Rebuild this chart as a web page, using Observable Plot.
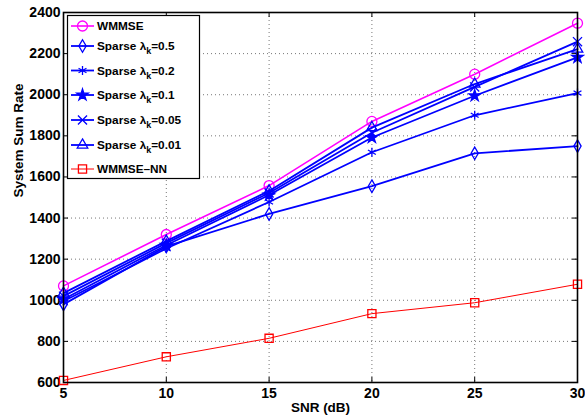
<!DOCTYPE html>
<html><head><meta charset="utf-8">
<script src="https://cdn.jsdelivr.net/npm/d3@7"></script>
<script src="https://cdn.jsdelivr.net/npm/@observablehq/plot@0.6"></script>
<style>body{margin:0;background:#fff} svg{display:block}</style>
</head><body><div id="chart"></div>
<script>
const snr = [5, 10, 15, 20, 25, 30];
const wmmse   = [1070, 1320, 1558, 1870, 2100, 2348];
const sp05    = [980, 1262, 1420, 1555, 1715, 1750];
const sp02    = [995, 1252, 1478, 1720, 1900, 2008];
const sp01    = [1005, 1268, 1512, 1792, 1995, 2182];
const sp005   = [1020, 1278, 1522, 1815, 2038, 2258];
const sp001   = [1035, 1288, 1532, 1840, 2052, 2222];
const wmmseNN = [610, 725, 815, 935, 988, 1078];
const xTicks = [5, 10, 15, 20, 25, 30];
const yTicks = [600, 800, 1000, 1200, 1400, 1600, 1800, 2000, 2200, 2400];
const lambdas = ["0.5", "0.2", "0.1", "0.05", "0.01"];

const BLUE = "#0000ff", MAG = "#ff00ff", RED = "#ff0000";
const series = [
  {name: "WMMSE", values: wmmse, color: MAG, symbol: "circle", d3sym: d3.symbolCircle, fill: "none", r: 5, sw: 1.6},
  {name: "Sparse 0.5", lam: lambdas[0], values: sp05, color: BLUE, symbol: "diamond", d3sym: d3.symbolDiamond, fill: "none", r: 3.8, sw: 1.8},
  {name: "Sparse 0.2", lam: lambdas[1], values: sp02, color: BLUE, symbol: "asterisk", d3sym: d3.symbolAsterisk, fill: "none", r: 4.3, sw: 1.8},
  {name: "Sparse 0.1", lam: lambdas[2], values: sp01, color: BLUE, symbol: "star", d3sym: d3.symbolStar, fill: BLUE, r: 3.6, sw: 1.8},
  {name: "Sparse 0.05", lam: lambdas[3], values: sp005, color: BLUE, symbol: "times", d3sym: d3.symbolTimes, fill: "none", r: 4.2, sw: 1.8},
  {name: "Sparse 0.01", lam: lambdas[4], values: sp001, color: BLUE, symbol: "triangle", d3sym: d3.symbolTriangle, fill: "none", r: 3.9, sw: 1.8},
  {name: "WMMSE-NN", values: wmmseNN, color: RED, symbol: "square", d3sym: d3.symbolSquare, fill: "none", r: 4.6, sw: 1}
];

const W = 585, H = 420;
const mL = 63, mR = 8, mT = 12, mB = 38;
const pw = W - mL - mR, ph = H - mT - mB;
const FONT = "'Liberation Sans', Arial, Helvetica, sans-serif";

const marks = [
  Plot.gridX(xTicks, {stroke: "#777", strokeOpacity: 1, strokeDasharray: "1,3"}),
  Plot.gridY(yTicks, {stroke: "#777", strokeOpacity: 1, strokeDasharray: "1,3"}),
  Plot.ruleY(yTicks, {stroke: "black", strokeWidth: 1, insetRight: pw - 5}),
  Plot.ruleY(yTicks, {stroke: "black", strokeWidth: 1, insetLeft: pw - 5}),
  Plot.ruleX(xTicks, {stroke: "black", strokeWidth: 1, insetTop: ph - 5}),
  Plot.ruleX(xTicks, {stroke: "black", strokeWidth: 1, insetBottom: ph - 5}),
  Plot.axisX(xTicks, {tickSize: 0, tickPadding: 6, fontSize: 14, fontWeight: "bold", label: null, tickFormat: d => String(d)}),
  Plot.axisY(yTicks, {tickSize: 0, tickPadding: 3, fontSize: 14, fontWeight: "bold", label: null, tickFormat: d => String(d)}),
];
for (const s of series) {
  const data = snr.map((x, i) => ({x, y: s.values[i]}));
  marks.push(Plot.line(data, {x: "x", y: "y", stroke: s.color, strokeWidth: s.sw}));
  marks.push(Plot.dot(data, {x: "x", y: "y", symbol: s.symbol, r: s.r, stroke: s.color, fill: s.fill, strokeWidth: 1.3}));
}
marks.push(Plot.frame({stroke: "black", strokeWidth: 1.6}));
marks.push(Plot.text(["System Sum Rate"], {frameAnchor: "left", rotate: -90, dx: -45, fontSize: 13.5, fontWeight: "bold"}));
marks.push(Plot.text(["SNR (dB)"], {frameAnchor: "bottom", dy: 29, fontSize: 13.5, fontWeight: "bold"}));

const svg = Plot.plot({
  width: W, height: H,
  marginLeft: mL, marginRight: mR, marginTop: mT, marginBottom: mB,
  style: {fontFamily: FONT, color: "black", background: "white", overflow: "visible"},
  x: {domain: [5, 30]},
  y: {domain: [600, 2400]},
  marks
});
document.getElementById("chart").appendChild(svg);

// Legend
const g = d3.select(svg).append("g").attr("font-family", FONT).attr("font-weight", "bold").attr("text-anchor", "start");
g.append("rect").attr("x", 67.5).attr("y", 15.5).attr("width", 132).attr("height", 163)
  .attr("fill", "white").attr("stroke", "black").attr("stroke-width", 1.2);
const rowY = [26, 46, 70.5, 95, 120, 145, 169];
series.forEach((s, i) => {
  const y = rowY[i];
  g.append("line").attr("x1", 71).attr("x2", 94).attr("y1", y).attr("y2", y)
    .attr("stroke", s.color).attr("stroke-width", s.sw);
  g.append("path").attr("transform", `translate(82.5,${y})`)
    .attr("d", d3.symbol(s.d3sym, Math.PI * s.r * s.r)())
    .attr("fill", s.fill).attr("stroke", s.color).attr("stroke-width", 1.3);
  const t = g.append("text").attr("x", 97).attr("y", y).attr("dy", "0.35em").attr("font-size", 11.8).attr("fill", "black");
  if (s.lam) {
    t.append("tspan").text("Sparse λ");
    t.append("tspan").attr("dy", 4).attr("font-size", 9).text("k");
    t.append("tspan").attr("dy", -4).text("=" + s.lam);
  } else {
    t.text(s.name === "WMMSE-NN" ? "WMMSE\u2013NN" : s.name);
  }
});
</script>
</body></html>
